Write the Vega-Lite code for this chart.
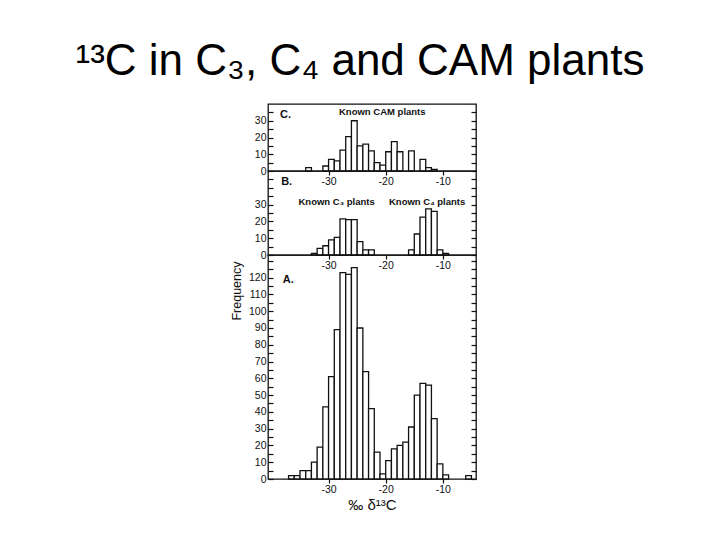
{
  "$schema": "https://vega.github.io/schema/vega-lite/v6.json",
  "background": "white",
  "padding": {"left": 75, "top": 40, "right": 5, "bottom": 5},
  "title": {"text": "¹³C in C₃, C₄ and CAM plants", "fontSize": 44, "font": "Liberation Sans", "fontWeight": "normal", "color": "black", "anchor": "middle", "frame": "group", "dx": -12, "offset": 19},
  "spacing": 0,
  "bounds": "flush",
  "datasets": {
    "hist": [
      {"panel": "C", "b0": -34, "b1": -33, "n": 2},
      {"panel": "C", "b0": -31, "b1": -30, "n": 3},
      {"panel": "C", "b0": -30, "b1": -29, "n": 7},
      {"panel": "C", "b0": -29, "b1": -28, "n": 6},
      {"panel": "C", "b0": -28, "b1": -27, "n": 12.5},
      {"panel": "C", "b0": -27, "b1": -26, "n": 20.5},
      {"panel": "C", "b0": -26, "b1": -25, "n": 30},
      {"panel": "C", "b0": -25, "b1": -24, "n": 15},
      {"panel": "C", "b0": -24, "b1": -23, "n": 16},
      {"panel": "C", "b0": -23, "b1": -22, "n": 12},
      {"panel": "C", "b0": -22, "b1": -21, "n": 5},
      {"panel": "C", "b0": -21, "b1": -20, "n": 3.5},
      {"panel": "C", "b0": -20, "b1": -19, "n": 11.5},
      {"panel": "C", "b0": -19, "b1": -18, "n": 17.5},
      {"panel": "C", "b0": -18, "b1": -17, "n": 11.5},
      {"panel": "C", "b0": -16, "b1": -15, "n": 12},
      {"panel": "C", "b0": -14, "b1": -13, "n": 7},
      {"panel": "C", "b0": -13, "b1": -12, "n": 2},
      {"panel": "C", "b0": -12, "b1": -11, "n": 1},
      {"panel": "B", "b0": -33, "b1": -32, "n": 1},
      {"panel": "B", "b0": -32, "b1": -31, "n": 4},
      {"panel": "B", "b0": -31, "b1": -30, "n": 5.5},
      {"panel": "B", "b0": -30, "b1": -29, "n": 9},
      {"panel": "B", "b0": -29, "b1": -28, "n": 10.5},
      {"panel": "B", "b0": -28, "b1": -27, "n": 21.5},
      {"panel": "B", "b0": -27, "b1": -26, "n": 21},
      {"panel": "B", "b0": -26, "b1": -25, "n": 21},
      {"panel": "B", "b0": -25, "b1": -24, "n": 8},
      {"panel": "B", "b0": -24, "b1": -23, "n": 3},
      {"panel": "B", "b0": -23, "b1": -22, "n": 3},
      {"panel": "B", "b0": -16, "b1": -15, "n": 3},
      {"panel": "B", "b0": -15, "b1": -14, "n": 12.5},
      {"panel": "B", "b0": -14, "b1": -13, "n": 22.5},
      {"panel": "B", "b0": -13, "b1": -12, "n": 27.5},
      {"panel": "B", "b0": -12, "b1": -11, "n": 26},
      {"panel": "B", "b0": -11, "b1": -10, "n": 3},
      {"panel": "B", "b0": -10, "b1": -9, "n": 1},
      {"panel": "A", "b0": -37, "b1": -36, "n": 2},
      {"panel": "A", "b0": -36, "b1": -35, "n": 2},
      {"panel": "A", "b0": -35, "b1": -34, "n": 5},
      {"panel": "A", "b0": -34, "b1": -33, "n": 5},
      {"panel": "A", "b0": -33, "b1": -32, "n": 10},
      {"panel": "A", "b0": -32, "b1": -31, "n": 19},
      {"panel": "A", "b0": -31, "b1": -30, "n": 43},
      {"panel": "A", "b0": -30, "b1": -29, "n": 61},
      {"panel": "A", "b0": -29, "b1": -28, "n": 89},
      {"panel": "A", "b0": -28, "b1": -27, "n": 123},
      {"panel": "A", "b0": -27, "b1": -26, "n": 122},
      {"panel": "A", "b0": -26, "b1": -25, "n": 126},
      {"panel": "A", "b0": -25, "b1": -24, "n": 90},
      {"panel": "A", "b0": -24, "b1": -23, "n": 64},
      {"panel": "A", "b0": -23, "b1": -22, "n": 42},
      {"panel": "A", "b0": -22, "b1": -21, "n": 16},
      {"panel": "A", "b0": -21, "b1": -20, "n": 3},
      {"panel": "A", "b0": -20, "b1": -19, "n": 11},
      {"panel": "A", "b0": -19, "b1": -18, "n": 18},
      {"panel": "A", "b0": -18, "b1": -17, "n": 20},
      {"panel": "A", "b0": -17, "b1": -16, "n": 22},
      {"panel": "A", "b0": -16, "b1": -15, "n": 31},
      {"panel": "A", "b0": -15, "b1": -14, "n": 50},
      {"panel": "A", "b0": -14, "b1": -13, "n": 57},
      {"panel": "A", "b0": -13, "b1": -12, "n": 56},
      {"panel": "A", "b0": -12, "b1": -11, "n": 36},
      {"panel": "A", "b0": -11, "b1": -10, "n": 9},
      {"panel": "A", "b0": -10, "b1": -9, "n": 2.5},
      {"panel": "A", "b0": -6, "b1": -5, "n": 2}
    ]
  },
  "config": {
    "font": "Liberation Sans",
    "view": {"stroke": "#111", "strokeWidth": 1.3},
    "axis": {"grid": false, "domain": false, "tickColor": "#111", "tickWidth": 1.2, "labelColor": "#111", "labelFontSize": 10.5, "labelFont": "Liberation Sans", "titleColor": "#111", "titleFont": "Liberation Sans", "titleFontWeight": "normal"},
    "text": {"color": "#111", "font": "Liberation Sans"}
  },
  "vconcat": [
    {
      "width": 208, "height": 67,
      "resolve": {"axis": {"y": "independent"}},
      "layer": [
        {
          "data": {"name": "hist"},
          "transform": [{"filter": "datum.panel === 'C'"}],
          "mark": {"type": "bar", "fill": "white", "stroke": "#111", "strokeWidth": 1.3},
          "encoding": {
            "x": {"field": "b0", "type": "quantitative", "scale": {"domain": [-40.6, -4.2], "nice": false, "zero": false}, "axis": {"values": [-30, -20, -10], "title": null, "labelExpr": "toString(datum.value)", "tickSize": 4, "labelPadding": 1}},
            "x2": {"field": "b1"},
            "y": {"field": "n", "type": "quantitative", "scale": {"domain": [0, 40], "nice": false}, "axis": {"values": [0, 5, 10, 15, 20, 25, 30, 35], "labelExpr": "datum.value % 10 === 0 ? toString(datum.value) : ''", "tickSize": -5, "labelPadding": 7, "title": null}},
            "y2": {"datum": 0}
          }
        },
        {
          "data": {"values": [{}]},
          "mark": {"type": "text", "align": "left", "baseline": "middle", "fontSize": 11, "fontWeight": "bold"},
          "encoding": {
            "x": {"datum": -38.5, "type": "quantitative", "scale": {"domain": [-40.6, -4.2], "nice": false, "zero": false}},
            "y": {"datum": 33.7, "type": "quantitative", "scale": {"domain": [0, 40], "nice": false}, "axis": {"orient": "right", "values": [0, 5, 10, 15, 20, 25, 30, 35], "labels": false, "tickSize": -5, "title": null}},
            "text": {"value": "C."}
          }
        },
        {
          "data": {"values": [{}]},
          "mark": {"type": "text", "align": "center", "baseline": "middle", "fontSize": 9.5, "fontWeight": "bold"},
          "encoding": {
            "x": {"datum": -20.6, "type": "quantitative", "scale": {"domain": [-40.6, -4.2], "nice": false, "zero": false}},
            "y": {"datum": 35.4, "type": "quantitative", "scale": {"domain": [0, 40], "nice": false}, "axis": null},
            "text": {"value": "Known CAM plants"}
          }
        }
      ]
    },
    {
      "width": 208, "height": 84,
      "resolve": {"axis": {"y": "independent"}},
      "layer": [
        {
          "data": {"name": "hist"},
          "transform": [{"filter": "datum.panel === 'B'"}],
          "mark": {"type": "bar", "fill": "white", "stroke": "#111", "strokeWidth": 1.3},
          "encoding": {
            "x": {"field": "b0", "type": "quantitative", "scale": {"domain": [-40.6, -4.2], "nice": false, "zero": false}, "axis": {"values": [-30, -20, -10], "title": null, "labelExpr": "toString(datum.value)", "tickSize": 4, "labelPadding": 1}},
            "x2": {"field": "b1"},
            "y": {"field": "n", "type": "quantitative", "scale": {"domain": [0, 50], "nice": false}, "axis": {"values": [0, 5, 10, 15, 20, 25, 30, 35, 40, 45], "labelExpr": "datum.value % 10 === 0 && datum.value <= 30 ? toString(datum.value) : ''", "tickSize": -5, "labelPadding": 7, "title": null}},
            "y2": {"datum": 0}
          }
        },
        {
          "data": {"values": [{}]},
          "mark": {"type": "text", "align": "left", "baseline": "middle", "fontSize": 11, "fontWeight": "bold"},
          "encoding": {
            "x": {"datum": -38.3, "type": "quantitative", "scale": {"domain": [-40.6, -4.2], "nice": false, "zero": false}},
            "y": {"datum": 43.4, "type": "quantitative", "scale": {"domain": [0, 50], "nice": false}, "axis": {"orient": "right", "values": [0, 5, 10, 15, 20, 25, 30, 35, 40, 45], "labels": false, "tickSize": -5, "title": null}},
            "text": {"value": "B."}
          }
        },
        {
          "data": {"values": [{}]},
          "mark": {"type": "text", "align": "center", "baseline": "middle", "fontSize": 9.5, "fontWeight": "bold"},
          "encoding": {
            "x": {"datum": -28.6, "type": "quantitative", "scale": {"domain": [-40.6, -4.2], "nice": false, "zero": false}},
            "y": {"datum": 31.5, "type": "quantitative", "scale": {"domain": [0, 50], "nice": false}, "axis": null},
            "text": {"value": "Known C₃ plants"}
          }
        },
        {
          "data": {"values": [{}]},
          "mark": {"type": "text", "align": "center", "baseline": "middle", "fontSize": 9.5, "fontWeight": "bold"},
          "encoding": {
            "x": {"datum": -12.75, "type": "quantitative", "scale": {"domain": [-40.6, -4.2], "nice": false, "zero": false}},
            "y": {"datum": 31.5, "type": "quantitative", "scale": {"domain": [0, 50], "nice": false}, "axis": null},
            "text": {"value": "Known C₄ plants"}
          }
        }
      ]
    },
    {
      "width": 208, "height": 224,
      "resolve": {"axis": {"y": "independent"}},
      "layer": [
        {
          "data": {"name": "hist"},
          "transform": [{"filter": "datum.panel === 'A'"}],
          "mark": {"type": "bar", "fill": "white", "stroke": "#111", "strokeWidth": 1.3},
          "encoding": {
            "x": {"field": "b0", "type": "quantitative", "scale": {"domain": [-40.6, -4.2], "nice": false, "zero": false}, "axis": {"values": [-30, -20, -10], "title": "‰ δ¹³C", "titleFontSize": 15, "titlePadding": 3, "labelExpr": "toString(datum.value)", "tickSize": 4, "labelPadding": 1}},
            "x2": {"field": "b1"},
            "y": {"field": "n", "type": "quantitative", "scale": {"domain": [0, 133.5], "nice": false}, "axis": {"values": [0, 5, 10, 15, 20, 25, 30, 35, 40, 45, 50, 55, 60, 65, 70, 75, 80, 85, 90, 95, 100, 105, 110, 115, 120, 125, 130], "labelExpr": "datum.value % 10 === 0 && datum.value <= 120 ? toString(datum.value) : ''", "tickSize": -5, "labelPadding": 7, "title": "Frequency", "titleFontSize": 12.5, "titleAnchor": "end", "titleAlign": "right", "titleY": 6, "titlePadding": 5}},
            "y2": {"datum": 0}
          }
        },
        {
          "data": {"values": [{}]},
          "mark": {"type": "text", "align": "left", "baseline": "middle", "fontSize": 11, "fontWeight": "bold"},
          "encoding": {
            "x": {"datum": -38.0, "type": "quantitative", "scale": {"domain": [-40.6, -4.2], "nice": false, "zero": false}},
            "y": {"datum": 118.6, "type": "quantitative", "scale": {"domain": [0, 133.5], "nice": false}, "axis": {"orient": "right", "values": [0, 5, 10, 15, 20, 25, 30, 35, 40, 45, 50, 55, 60, 65, 70, 75, 80, 85, 90, 95, 100, 105, 110, 115, 120, 125, 130], "labels": false, "tickSize": -5, "title": null}},
            "text": {"value": "A."}
          }
        }
      ]
    }
  ]
}
